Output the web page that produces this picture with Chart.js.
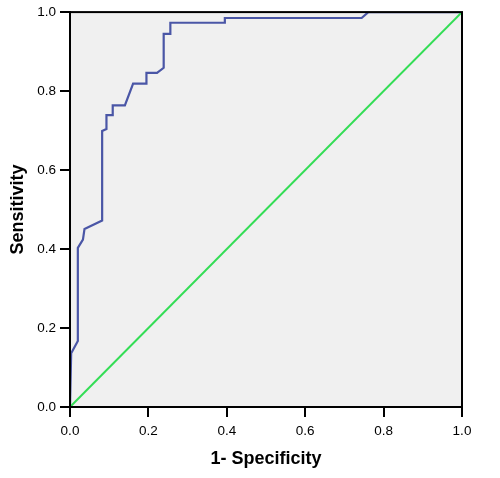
<!DOCTYPE html>
<html>
<head>
<meta charset="utf-8">
<script src="https://cdn.jsdelivr.net/npm/chart.js@4/dist/chart.umd.min.js"></script>
<style>
  html, body { margin: 0; padding: 0; background: #fff; }
  #wrap { width: 500px; height: 478px; }
</style>
</head>
<body>
<div id="wrap"><canvas id="roc" width="500" height="478"></canvas></div>
<script>
// ROC curve (1 - specificity, sensitivity)
const rocFpr = [0, 0.003, 0.020, 0.020, 0.033, 0.037, 0.082, 0.082, 0.093, 0.093, 0.109, 0.109, 0.140, 0.161, 0.195, 0.195, 0.222, 0.239, 0.239, 0.256, 0.256, 0.395, 0.395, 0.744, 0.761, 1.0];
const rocTpr = [0, 0.136, 0.167, 0.403, 0.424, 0.451, 0.472, 0.699, 0.704, 0.739, 0.739, 0.764, 0.764, 0.819, 0.819, 0.846, 0.846, 0.859, 0.945, 0.945, 0.973, 0.973, 0.985, 0.985, 1.0, 1.0];
const refX = [0, 1];
const refY = [0, 1];
const tickValues = [0, 0.2, 0.4, 0.6, 0.8, 1.0];

const toPoints = (xs, ys) => xs.map((x, i) => ({ x: x, y: ys[i] }));

// grey plot background and black frame
const frame = {
    id: 'frame',
    beforeDraw(chart) {
        const { ctx, chartArea: a } = chart;
        ctx.save();
        ctx.fillStyle = '#f0f0f0';
        ctx.fillRect(a.left, a.top, a.right - a.left, a.bottom - a.top);
        ctx.restore();
    },
    afterDraw(chart) {
        const { ctx, chartArea: a } = chart;
        ctx.save();
        ctx.strokeStyle = '#000';
        ctx.lineWidth = 2;
        ctx.strokeRect(a.left, a.top, a.right - a.left, a.bottom - a.top);
        ctx.restore();
    }
};

const tickFont = { family: 'Liberation Sans, Arial, sans-serif', size: 13.5 };
const titleFont = { family: 'Liberation Sans, Arial, sans-serif', size: 18, weight: 'bold' };

new Chart(document.getElementById('roc'), {
    type: 'scatter',
    data: {
        datasets: [
            {
                label: 'Reference',
                data: toPoints(refX, refY),
                showLine: true,
                borderColor: '#33dd55',
                borderWidth: 2,
                pointRadius: 0,
                tension: 0
            },
            {
                label: 'ROC',
                data: toPoints(rocFpr, rocTpr),
                showLine: true,
                borderColor: '#4a56a6',
                borderWidth: 2.2,
                pointRadius: 0,
                tension: 0
            }
        ]
    },
    options: {
        responsive: false,
        animation: false,
        layout: { padding: { left: 0, top: 11, right: 38, bottom: 0 } },
        plugins: {
            legend: { display: false },
            tooltip: { enabled: false }
        },
        scales: {
            x: {
                type: 'linear',
                min: 0, max: 1,
                afterBuildTicks: (s) => { s.ticks = tickValues.map(v => ({ value: v })); },
                afterFit: (s) => { s.height = 71; },
                grid: { drawOnChartArea: false, color: '#000', lineWidth: 2, tickLength: 10 },
                border: { color: '#000', width: 2 },
                ticks: { color: '#000', font: tickFont, padding: 6, maxRotation: 0, callback: (v) => v.toFixed(1) },
                title: { display: true, text: '1- Specificity', color: '#000', font: titleFont, padding: { top: 0, bottom: 8 } }
            },
            y: {
                type: 'linear',
                min: 0, max: 1,
                afterBuildTicks: (s) => { s.ticks = tickValues.map(v => ({ value: v })); },
                afterFit: (s) => { s.width = 70; },
                grid: { drawOnChartArea: false, color: '#000', lineWidth: 2, tickLength: 10 },
                border: { color: '#000', width: 2 },
                ticks: { color: '#000', font: tickFont, padding: 4, callback: (v) => v.toFixed(1) },
                title: { display: true, text: 'Sensitivity', color: '#000', font: titleFont, padding: { top: 7, bottom: 0 } }
            }
        }
    },
    plugins: [frame]
});
</script>
</body>
</html>
